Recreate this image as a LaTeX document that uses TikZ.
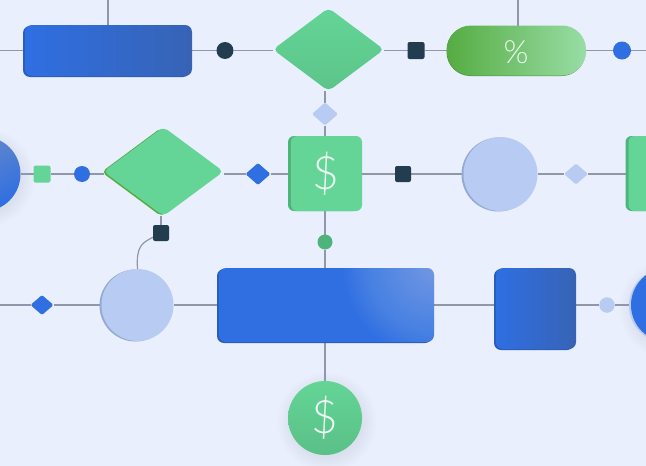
\documentclass[tikz,border=0pt]{standalone}
\usepackage{fontspec}
\setmainfont{Lato Light}
\usetikzlibrary{shapes.geometric}
\usetikzlibrary{shadows}
\usetikzlibrary{backgrounds}
\definecolor{pagebg}{HTML}{E9EFFC}
\definecolor{linegray}{HTML}{8F97A8}
\definecolor{navy}{HTML}{223C50}
\definecolor{flowblue}{HTML}{2F6FE2}
\definecolor{deepblue}{HTML}{3763B5}
\definecolor{edgeblue}{HTML}{2A5DBE}
\definecolor{paleblue}{HTML}{B8CCF3}
\definecolor{edgepale}{HTML}{95A9D2}
\definecolor{mint}{HTML}{64D596}
\definecolor{edgemint}{HTML}{4FB47C}
\definecolor{leaf}{HTML}{56AC42}
\definecolor{leaflight}{HTML}{98DDA6}
\tikzset{
 every node/.style={inner sep=0, outer sep=0},
 wire/.style={linegray, line width=1.2pt},
 blocklook/.style={rounded corners=7pt, general shadow={fill=#1, shadow xshift=-2pt, shadow yshift=-1pt}},
 mintblock/.style={rounded corners=6pt, fill=mint, minimum width=71, minimum height=75, general shadow={fill=edgemint, shadow xshift=-3pt, shadow yshift=0pt}},
 rim/.style={general shadow={fill=#1, shadow xshift=-2pt, shadow yshift=-.5pt}},
 dot/.style={circle, minimum size=#1},
 tile/.style={rectangle, rounded corners=2pt, minimum size=#1},
 gem/.style={diamond, rounded corners=5pt, minimum width=#1},
 kite/.style={diamond, rounded corners=1.5pt, minimum width=#1},
 sign/.style={text=white!88!mint, font=\fontsize{46}{46}\selectfont},
}
\newcommand{\softshadow}[4]{% x, y, radius, colour
\foreach \r in {0,1,...,14} {
 \fill[#4, opacity=.004] (#1,#2) circle ({#3+\r});
}}
\begin{document}
\begin{tikzpicture}[x=1pt,y=-1pt]
\clip (0,0) rectangle (646,466);
% top row
\node[blocklook=edgeblue, left color=flowblue, right color=deepblue, minimum width=167, minimum height=51] (topbox) at (108.5,50.5) {};
\node[dot=17, fill=navy] (topdot) at (225,50.5) {};
\node[gem=111, minimum height=83, top color=mint, bottom color=mint!92!black] (topgem) at (328.5,49.5) {};
\node[tile=17, fill=navy] (topsq) at (416,50.5) {};
\node[rectangle, rounded corners=24pt, general shadow={fill=leaf!85!black, shadow xshift=-.5pt, shadow yshift=-.5pt}, left color=leaf, right color=leaflight, minimum width=139, minimum height=50] (pill) at (516.5,50.5) {};
\node[sign, text=white!85!leaflight, font=\fontsize{32}{32}\selectfont] (pct) at (516,52) {\%};
\node[dot=18, fill=flowblue] (topend) at (622,50.5) {};
% middle row
\node[dot=75, left color=deepblue!75!white, right color=flowblue, shading angle=30] (leftball) at (-17,174) {};
\node[tile=17, fill=mint] (midsq) at (42,174) {};
\node[dot=16, fill=flowblue] (middot) at (82,174) {};
\node[gem=120, minimum height=89, rim=leaf, fill=mint] (midgem) at (163.5,171.5) {};
\node[kite=25, minimum height=22, fill=flowblue] (midkite) at (258,174) {};
\node[mintblock] (paybox) at (326.5,173.5) {};
\node[sign] (paysign) at (326,174) {\$};
\node[kite=26, minimum height=23, fill=paleblue] (upkite) at (325,114) {};
\node[tile=16, fill=navy] (midnavy) at (403,174) {};
\node[dot=74, rim=edgepale, fill=paleblue] (midball) at (500.5,174) {};
\node[kite=24, minimum height=21, fill=paleblue] (palekite) at (576,174) {};
\node[mintblock] (rightbox) at (664,173.5) {};
\node[tile=16, fill=navy] (linksq) at (161,233) {};
\node[dot=15, fill=edgemint] (lowdot) at (325,242) {};
% bottom row
\node[kite=23, minimum height=20, fill=flowblue] (lowkite) at (42,305) {};
\node[dot=72, rim=edgepale, fill=paleblue] (lowball) at (137.5,305) {};
\node[blocklook=edgeblue, fill=flowblue, minimum width=215, minimum height=74] (widebox) at (326.5,305) {};
\node[blocklook=edgeblue, left color=flowblue, right color=deepblue, minimum width=80, minimum height=81] (sqbox) at (536,308.5) {};
\node[dot=15.5, fill=paleblue] (paledot) at (607,305) {};
\node[dot=74, rim=paleblue, fill=flowblue] (rightball) at (668,305) {};
\node[dot=74, top color=mint, bottom color=mint!90!black] (coin) at (325,418) {};
\node[sign] (coinsign) at (325,418) {\$};
% glow on the wide box
\begin{scope}
\clip[rounded corners=7pt] (218,268) rectangle (434,342);
\foreach \r in {3,6,...,90} {
 \fill[white, opacity=.014] (434,268) circle (\r);
}
\end{scope}
% free ends of the wires
\coordinate (edgeW1) at (0,50.5);
\coordinate (edgeE1) at (646,50.5);
\coordinate (edgeW3) at (0,305);
\coordinate (roofA) at (108,0);
\coordinate (roofB) at (518,0);
\begin{scope}[on background layer]
\fill[pagebg] (0,0) rectangle (646,466);
\softshadow{-15}{178}{36}{navy}
\softshadow{669}{309}{36}{navy}
\softshadow{327}{422}{36}{navy}
\draw[wire] (edgeW1)--(topbox)--(topdot)--(topgem.west|-topdot) (topgem.east|-topdot)--(topsq)--(pill)--(topend)--(edgeE1);
\draw[wire] (roofA)--(topbox.north-|roofA) (roofB)--(pill.north-|roofB);
\draw[wire] (topgem.south-|upkite)--(upkite)--(paybox.north-|upkite);
\draw[wire] (leftball)--(midsq)--(middot)--(midgem.west|-middot) (midgem.east|-middot)--(midkite)--(paybox.west|-midkite) (paybox.east|-midkite)--(midnavy)--(midball)--(palekite)--(rightbox.west|-palekite);
\draw[wire] (midgem.south-|linksq)--(linksq);
\draw[wire] (linksq) .. controls (142,243) and (136,246) .. (lowball.north);
\draw[wire] (paybox.south-|lowdot)--(lowdot)--(widebox.north-|lowdot);
\draw[wire] (edgeW3)--(lowkite)--(lowball)--(widebox)--(sqbox.west|-widebox) (sqbox.east|-widebox)--(paledot)--(rightball);
\draw[wire] (widebox.south-|coin)--(coin);
\end{scope}
\end{tikzpicture}
\end{document}
